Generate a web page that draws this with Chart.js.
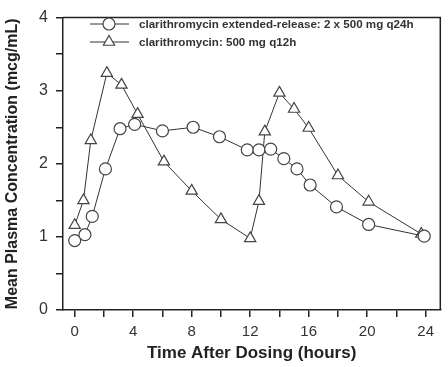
<!DOCTYPE html>
<html>
<head>
<meta charset="utf-8">
<script src="https://cdn.jsdelivr.net/npm/chart.js@4.4.1/dist/chart.umd.min.js"></script>
<style>
  html, body { margin: 0; padding: 0; background: #fff; }
  canvas { display: block; }
</style>
</head>
<body>
<canvas id="myChart" width="448" height="367"></canvas>
<script>
// values
let erLabel = "clarithromycin extended-release: 2 x 500 mg q24h";
let erHours = [0, 0.7, 1.2, 2.1, 3.1, 4.1, 6, 8.1, 9.9, 11.8, 12.6, 13.4, 14.3, 15.2, 16.1, 17.9, 20.1, 23.9];
let erConc = [0.95, 1.03, 1.28, 1.93, 2.48, 2.54, 2.45, 2.5, 2.37, 2.19, 2.19, 2.2, 2.07, 1.93, 1.71, 1.41, 1.17, 1.01];

let irLabel = "clarithromycin: 500 mg q12h";
let irHours = [0, 0.6, 1.1, 2.2, 3.2, 4.3, 6.1, 8, 10, 12, 12.6, 13, 14, 15, 16, 18, 20.1, 23.7];
let irConc = [1.16, 1.5, 2.32, 3.24, 3.08, 2.68, 2.03, 1.63, 1.24, 0.98, 1.49, 2.44, 2.97, 2.75, 2.49, 1.84, 1.48, 1.04];

let xTicks = [0, 2, 4, 6, 8, 10, 12, 14, 16, 18, 20, 22, 24];
let yTicks = [0, 0.5, 1, 1.5, 2, 2.5, 3, 3.5, 4];

const FONT = "'Liberation Sans', Arial, sans-serif";
const INK = "#222";

function points(xs, ys) {
  return xs.map((x, i) => ({ x: x, y: ys[i] }));
}

function marker(ctx, style, x, y, r) {
  ctx.beginPath();
  if (style === "circle") {
    ctx.arc(x, y, r, 0, Math.PI * 2);
  } else {
    for (let k = 0; k < 3; k++) {
      const a = k * Math.PI * 2 / 3;
      const px = x + Math.sin(a) * r;
      const py = y - Math.cos(a) * r;
      if (k === 0) ctx.moveTo(px, py); else ctx.lineTo(px, py);
    }
    ctx.closePath();
  }
  ctx.fill();
  ctx.stroke();
}

// box round the plot and the legend in its top left corner
const frameAndLegend = {
  id: "frameAndLegend",
  afterDraw(chart) {
    const ctx = chart.ctx;
    const a = chart.chartArea;
    ctx.save();
    ctx.strokeStyle = INK;
    ctx.lineWidth = 1.5;
    ctx.beginPath();
    ctx.moveTo(a.left, a.top);
    ctx.lineTo(a.right, a.top);
    ctx.lineTo(a.right, a.bottom);
    ctx.stroke();

    chart.data.datasets.forEach((ds, i) => {
      const y = 24 + i * 18;
      ctx.strokeStyle = "#333";
      ctx.lineWidth = 1;
      ctx.beginPath();
      ctx.moveTo(90, y);
      ctx.lineTo(129, y);
      ctx.stroke();
      ctx.fillStyle = "#fff";
      ctx.strokeStyle = "#444";
      ctx.lineWidth = 1.2;
      marker(ctx, ds.pointStyle, 109, y, ds.pointRadius);
      ctx.fillStyle = "#333";
      ctx.font = "bold 11.6px " + FONT;
      ctx.textBaseline = "middle";
      ctx.fillText(ds.label, 139, y + 1);
    });
    ctx.restore();
  }
};

let ctx = document.getElementById("myChart").getContext("2d");
let myChart = new Chart(ctx, {
  type: "line",
  data: {
    datasets: [
      {
        label: erLabel,
        data: points(erHours, erConc),
        borderColor: "#333",
        borderWidth: 1,
        pointStyle: "circle",
        pointRadius: 6,
        pointBackgroundColor: "#fff",
        pointBorderColor: "#444",
        pointBorderWidth: 1.2,
        tension: 0
      },
      {
        label: irLabel,
        data: points(irHours, irConc),
        borderColor: "#333",
        borderWidth: 1,
        pointStyle: "triangle",
        pointRadius: 6.5,
        pointBackgroundColor: "#fff",
        pointBorderColor: "#444",
        pointBorderWidth: 1.2,
        tension: 0
      }
    ]
  },
  options: {
    responsive: false,
    animation: false,
    layout: { padding: { top: 10, right: 3, left: 0, bottom: 0 } },
    plugins: { legend: { display: false }, tooltip: { enabled: false } },
    scales: {
      x: {
        type: "linear",
        min: -0.8,
        max: 25,
        afterBuildTicks: axis => { axis.ticks = xTicks.map(v => ({ value: v })); },
        afterFit: axis => { axis.height = 57; },
        border: { display: true, color: INK, width: 1.5 },
        grid: { drawOnChartArea: false, drawTicks: true, tickLength: 7, color: INK, lineWidth: 1.5 },
        ticks: {
          autoSkip: false,
          maxRotation: 0,
          padding: 6,
          color: "#333",
          font: { family: FONT, size: 15 },
          callback: v => (v % 4 === 0 ? String(v) : "")
        },
        title: {
          display: true,
          text: "Time After Dosing (hours)",
          color: INK,
          font: { family: FONT, size: 17, weight: "bold" },
          padding: { top: 0, bottom: 3 }
        }
      },
      y: {
        type: "linear",
        min: 0,
        max: 4,
        afterBuildTicks: axis => { axis.ticks = yTicks.map(v => ({ value: v })); },
        afterFit: axis => { axis.width = 63; },
        border: { display: true, color: INK, width: 1.5 },
        grid: { drawOnChartArea: false, drawTicks: true, tickLength: 7, color: INK, lineWidth: 1.5 },
        ticks: {
          autoSkip: false,
          padding: 8,
          color: "#333",
          font: { family: FONT, size: 16 },
          callback: v => (Number.isInteger(v) ? String(v) : "")
        },
        title: {
          display: true,
          text: "Mean Plasma Concentration (mcg/mL)",
          color: INK,
          font: { family: FONT, size: 16, weight: "bold" },
          padding: { top: 3, bottom: 0 }
        }
      }
    }
  },
  plugins: [frameAndLegend]
});
</script>
</body>
</html>
